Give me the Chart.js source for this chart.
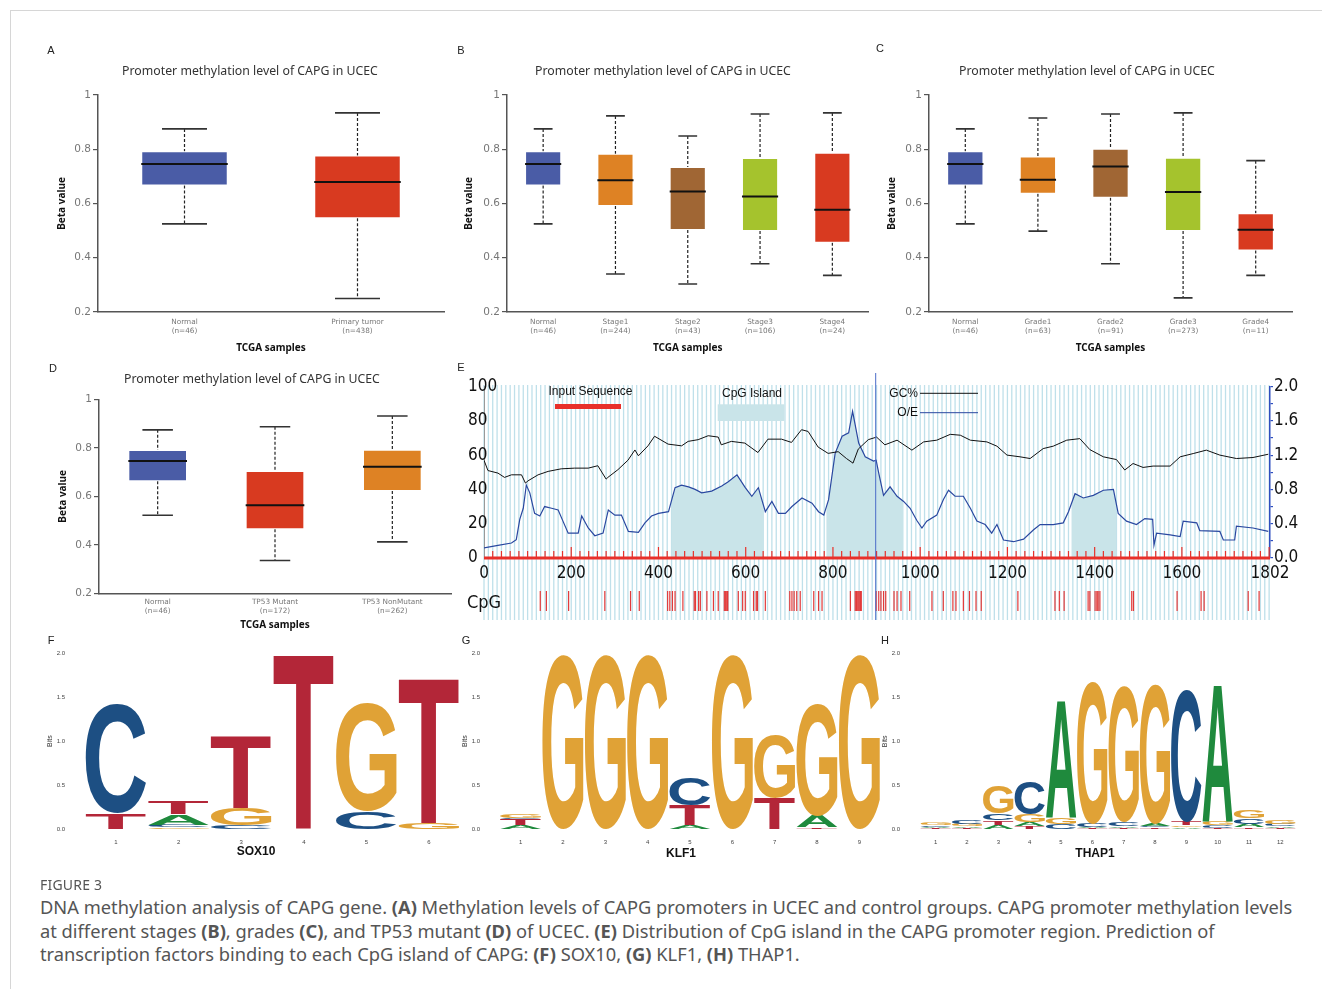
<!DOCTYPE html>
<html>
<head>
<meta charset="utf-8">
<script src="https://cdn.jsdelivr.net/npm/chart.js@4.4.1/dist/chart.umd.min.js"></script>
<style>
  body { margin: 0; background: #fff; width: 1322px; height: 989px; position: relative; overflow: hidden; font-family: 'Noto Sans', sans-serif; }
  .frame { position: absolute; left: 10px; top: 10px; width: 1340px; height: 1000px; border-left: 1px solid #d6d6d6; border-top: 1px solid #d6d6d6; }
  canvas { position: absolute; }
  .t { position: absolute; transform: translate(-50%, -50%); white-space: nowrap; }
  .panel { font: 11px 'Liberation Sans', Arial, sans-serif; color: #222; }
  .title { font: 12.3px 'Noto Sans', sans-serif; color: #333; }
  .motif { font: bold 12px 'Liberation Sans', Arial, sans-serif; color: #111; }
  .fig { position: absolute; left: 40px; top: 875px; font: 14px 'Noto Sans', sans-serif; color: #555; letter-spacing: 0.2px; }
  .cap { position: absolute; left: 40px; top: 895px; font: 18.3px/23.5px 'Noto Sans', sans-serif; color: #555; white-space: nowrap; }
  .cap b { font-weight: bold; }
</style>
</head>
<body>
<div class="frame"></div>

<canvas id="chartA" width="410" height="320" style="left:40px;top:40px"></canvas>
<canvas id="chartB" width="420" height="320" style="left:450px;top:40px"></canvas>
<canvas id="chartC" width="440" height="320" style="left:870px;top:40px"></canvas>
<canvas id="chartD" width="420" height="275" style="left:40px;top:360px"></canvas>
<canvas id="chartE" width="855" height="270" style="left:455px;top:360px"></canvas>
<canvas id="chartF" width="425" height="240" style="left:40px;top:630px"></canvas>
<canvas id="chartG" width="425" height="240" style="left:460px;top:630px"></canvas>
<canvas id="chartH" width="425" height="240" style="left:880px;top:630px"></canvas>

<div class="t panel" style="left:51px;top:50px">A</div>
<div class="t panel" style="left:461px;top:50px">B</div>
<div class="t panel" style="left:880px;top:48px">C</div>
<div class="t panel" style="left:53px;top:368px">D</div>
<div class="t panel" style="left:461px;top:367px">E</div>
<div class="t panel" style="left:51px;top:640px">F</div>
<div class="t panel" style="left:466px;top:640px">G</div>
<div class="t panel" style="left:885px;top:640px">H</div>

<div class="t title" style="left:250px;top:70px">Promoter methylation level of CAPG in UCEC</div>
<div class="t title" style="left:663px;top:70px">Promoter methylation level of CAPG in UCEC</div>
<div class="t title" style="left:1087px;top:70px">Promoter methylation level of CAPG in UCEC</div>
<div class="t title" style="left:252px;top:378px">Promoter methylation level of CAPG in UCEC</div>

<div class="t motif" style="left:256px;top:851px">SOX10</div>
<div class="t motif" style="left:681px;top:853px">KLF1</div>
<div class="t motif" style="left:1095px;top:853px">THAP1</div>

<div class="fig">FIGURE 3</div>
<div class="cap">DNA methylation analysis of CAPG gene. <b>(A)</b> Methylation levels of CAPG promoters in UCEC and control groups. CAPG promoter methylation levels<br>at different stages <b>(B)</b>, grades <b>(C)</b>, and TP53 mutant <b>(D)</b> of UCEC. <b>(E)</b> Distribution of CpG island in the CAPG promoter region. Prediction of<br>transcription factors binding to each CpG island of CAPG: <b>(F)</b> SOX10, <b>(G)</b> KLF1, <b>(H)</b> THAP1.</div>

<script>
// box plots: whisker low, Q1, median, Q3, whisker high
const groupsA = [['Normal', '(n=46)'], ['Primary tumor', '(n=438)']]
const lowA = [0.525, 0.25]
const q1A = [0.666, 0.546]
const medA = [0.746, 0.679]
const q3A = [0.793, 0.777]
const highA = [0.875, 0.934]

const groupsB = [['Normal', '(n=46)'], ['Stage1', '(n=244)'], ['Stage2', '(n=43)'], ['Stage3', '(n=106)'], ['Stage4', '(n=24)']]
const lowB = [0.525, 0.34, 0.303, 0.378, 0.335]
const q1B = [0.666, 0.591, 0.502, 0.499, 0.455]
const medB = [0.746, 0.686, 0.644, 0.626, 0.577]
const q3B = [0.793, 0.783, 0.735, 0.768, 0.787]
const highB = [0.875, 0.923, 0.849, 0.93, 0.934]

const groupsC = [['Normal', '(n=46)'], ['Grade1', '(n=63)'], ['Grade2', '(n=91)'], ['Grade3', '(n=273)'], ['Grade4', '(n=11)']]
const lowC = [0.525, 0.498, 0.378, 0.252, 0.335]
const q1C = [0.666, 0.636, 0.621, 0.499, 0.427]
const medC = [0.746, 0.688, 0.736, 0.642, 0.503]
const q3C = [0.793, 0.773, 0.802, 0.769, 0.564]
const highC = [0.875, 0.915, 0.93, 0.934, 0.758]

const groupsD = [['Normal', '(n=46)'], ['TP53 Mutant', '(n=172)'], ['TP53 NonMutant', '(n=262)']]
const lowD = [0.522, 0.335, 0.412]
const q1D = [0.662, 0.464, 0.622]
const medD = [0.746, 0.563, 0.722]
const q3D = [0.791, 0.704, 0.792]
const highD = [0.874, 0.887, 0.931]

// CpG plot (E)
const gcBp = [0, 9, 32, 47, 63, 86, 95, 101, 124, 147, 177, 208, 239, 261, 280, 284, 307, 330, 346, 354, 376, 391, 422, 453, 468, 491, 514, 537, 544, 567, 598, 628, 651, 682, 705, 728, 743, 766, 789, 812, 831, 846, 858, 881, 900, 919, 947, 981, 1008, 1038, 1069, 1092, 1115, 1153, 1176, 1199, 1229, 1252, 1282, 1305, 1336, 1366, 1389, 1420, 1450, 1469, 1488, 1511, 1534, 1573, 1596, 1626, 1656, 1687, 1725, 1763, 1798]
const gcPct = [57, 51, 49.5, 47, 48.5, 48.5, 43.7, 45, 48.5, 50.5, 52, 52.4, 52.4, 53.8, 46, 47, 51.5, 57, 63, 59.6, 65.4, 71, 66.4, 65.4, 68, 69, 71.3, 70.5, 66, 68, 67, 61.5, 69.3, 69.3, 67.4, 74.8, 73.8, 64.7, 61, 62, 58, 55.3, 63.5, 69, 70.5, 66, 68.7, 62.9, 67.7, 68.7, 72.1, 71.6, 68.7, 67.7, 65.2, 60, 59, 58, 63.8, 65.2, 68.7, 69.6, 63.2, 59, 57.4, 51.3, 55.1, 52.8, 53.6, 53.6, 59, 60.9, 62.9, 60, 58, 58.6, 60.5]
const oeBp = [0, 32, 63, 74, 82, 90, 97, 105, 116, 128, 139, 155, 170, 181, 193, 216, 224, 239, 254, 273, 285, 300, 315, 331, 354, 369, 384, 400, 423, 438, 453, 469, 484, 499, 522, 545, 560, 580, 599, 614, 629, 645, 660, 675, 691, 706, 729, 752, 767, 779, 790, 805, 821, 836, 845, 859, 874, 893, 899, 905, 916, 931, 947, 962, 977, 992, 1004, 1015, 1038, 1053, 1065, 1080, 1099, 1115, 1130, 1149, 1164, 1176, 1191, 1214, 1237, 1260, 1275, 1305, 1328, 1340, 1355, 1374, 1397, 1420, 1443, 1454, 1473, 1496, 1515, 1533, 1536, 1542, 1573, 1596, 1603, 1634, 1641, 1687, 1695, 1721, 1725, 1763, 1798]
const oeRatio = [0.117, 0.148, 0.175, 0.214, 0.45, 0.58, 0.85, 0.76, 0.52, 0.49, 0.6, 0.58, 0.56, 0.43, 0.29, 0.29, 0.49, 0.35, 0.26, 0.29, 0.56, 0.5, 0.5, 0.31, 0.3, 0.41, 0.49, 0.52, 0.54, 0.82, 0.85, 0.83, 0.8, 0.76, 0.78, 0.84, 0.89, 0.97, 0.82, 0.72, 0.82, 0.54, 0.66, 0.52, 0.52, 0.6, 0.7, 0.64, 0.54, 0.5, 0.68, 1.22, 1.42, 1.46, 1.71, 1.34, 1.18, 1.13, 1.14, 0.99, 0.73, 0.83, 0.72, 0.66, 0.58, 0.44, 0.35, 0.43, 0.5, 0.68, 0.79, 0.72, 0.72, 0.58, 0.43, 0.39, 0.29, 0.39, 0.21, 0.19, 0.22, 0.33, 0.39, 0.39, 0.41, 0.54, 0.75, 0.7, 0.73, 0.79, 0.8, 0.52, 0.43, 0.39, 0.46, 0.45, 0.15, 0.29, 0.27, 0.25, 0.43, 0.41, 0.32, 0.31, 0.21, 0.21, 0.37, 0.35, 0.31]
const islandStart = [430, 785, 1347]
const islandEnd = [641, 961, 1450]
const cpgSites = [129, 143, 194, 277, 336, 356, 421, 426, 432, 438, 456, 482, 485, 492, 496, 511, 526, 537, 551, 554, 557, 559, 583, 593, 599, 618, 624, 627, 645, 701, 706, 711, 717, 725, 756, 767, 775, 840, 851, 854, 857, 860, 863, 865, 899, 905, 910, 916, 921, 940, 947, 956, 976, 1027, 1053, 1075, 1082, 1099, 1113, 1128, 1140, 1224, 1309, 1319, 1330, 1385, 1389, 1401, 1405, 1408, 1412, 1485, 1489, 1589, 1644, 1651, 1752, 1777]
const seqLength = 1802
const markerBp = 898
const bpTicks = [0, 200, 400, 600, 800, 1000, 1200, 1400, 1600, 1802]

// sequence logos, letters bottom to top with their heights in bits
const sox10Letters = ['TC', 'GCAT', 'CGT', 'T', 'CG', 'GT']
const sox10Bits = [[0.18, 1.24], [0.02, 0.03, 0.12, 0.14], [0.045, 0.19, 0.82], [2.0], [0.2, 1.23], [0.07, 1.66]]
const klf1Letters = ['ATCG', 'G', 'G', 'G', 'ATC', 'G', 'TG', 'TAG', 'G']
const klf1Bits = [[0.04, 0.07, 0.02, 0.05], [1.98], [1.98], [1.98], [0.04, 0.23, 0.31], [1.98], [0.35, 0.72], [0.02, 0.13, 1.28], [1.98]]
const thap1Letters = ['TACG', 'TAGC', 'ATCG', 'TAGC', 'CGA', 'TACG', 'TACG', 'TCAG', 'AGTC', 'TCGA', 'TACG', 'TACG']
const thap1Bits = [[0.01, 0.015, 0.02, 0.03], [0.01, 0.02, 0.03, 0.04], [0.05, 0.05, 0.08, 0.31], [0.03, 0.05, 0.09, 0.38], [0.06, 0.07, 1.35], [0.01, 0.01, 0.04, 1.63], [0.01, 0.02, 0.05, 1.55], [0.02, 0.01, 0.03, 1.6], [0.02, 0.02, 0.04, 1.5], [0.01, 0.03, 0.04, 1.57], [0.02, 0.04, 0.06, 0.09], [0.01, 0.02, 0.03, 0.04]]

const BLUE = '#4a5ca6', RED = '#d83a20', ORANGE = '#de8224', BROWN = '#a06634', GREEN = '#a5c32d'
const baseColors = { A: '#1f8a3d', C: '#1d4f83', G: '#e0a236', T: '#b32638' }

Chart.defaults.animation = false
Chart.defaults.responsive = false
Chart.defaults.devicePixelRatio = 1
Chart.defaults.plugins.legend.display = false
Chart.defaults.plugins.tooltip.enabled = false

const whiskers = {
  id: 'whiskers',
  beforeDatasetsDraw(chart) {
    const ds = chart.data.datasets[0]
    const y = chart.scales.y
    const ctx = chart.ctx
    chart.getDatasetMeta(0).data.forEach((bar, i) => {
      const cap = bar.width * 0.26
      ctx.save()
      ctx.strokeStyle = '#222'
      ctx.lineWidth = 1.2
      ctx.setLineDash([3, 2])
      ctx.beginPath()
      ctx.moveTo(bar.x, y.getPixelForValue(ds.highs[i]))
      ctx.lineTo(bar.x, y.getPixelForValue(ds.data[i][1]))
      ctx.moveTo(bar.x, y.getPixelForValue(ds.data[i][0]))
      ctx.lineTo(bar.x, y.getPixelForValue(ds.lows[i]))
      ctx.stroke()
      ctx.setLineDash([])
      ctx.lineWidth = 1.6
      ctx.strokeStyle = '#333'
      ctx.beginPath()
      for (const v of [ds.highs[i], ds.lows[i]]) {
        const py = y.getPixelForValue(v)
        ctx.moveTo(bar.x - cap, py)
        ctx.lineTo(bar.x + cap, py)
      }
      ctx.stroke()
      ctx.restore()
    })
  },
  afterDatasetsDraw(chart) {
    const ds = chart.data.datasets[0]
    const y = chart.scales.y
    const ctx = chart.ctx
    ctx.save()
    ctx.strokeStyle = '#111'
    ctx.lineWidth = 2
    chart.getDatasetMeta(0).data.forEach((bar, i) => {
      const py = y.getPixelForValue(ds.medians[i])
      ctx.beginPath()
      ctx.moveTo(bar.x - bar.width / 2, py)
      ctx.lineTo(bar.x + bar.width / 2, py)
      ctx.stroke()
    })
    ctx.restore()
  },
}

function boxChart(id, groups, low, q1, med, q3, high, colors, lay) {
  return new Chart(document.getElementById(id), {
    type: 'bar',
    data: {
      labels: groups,
      datasets: [{
        data: q1.map((v, i) => [v, q3[i]]),
        lows: low,
        highs: high,
        medians: med,
        backgroundColor: colors,
        borderColor: 'rgba(255,255,255,0.55)',
        borderWidth: 1,
        borderSkipped: false,
        barPercentage: 0.5,
        categoryPercentage: 1,
      }],
    },
    options: {
      layout: { padding: { top: lay.top, right: lay.right, left: 0, bottom: 0 } },
      scales: {
        x: {
          afterFit: (s) => { s.height = lay.xh },
          grid: { display: true, drawOnChartArea: false, drawTicks: false },
          border: { color: '#555', width: 1.5 },
          ticks: { font: { family: 'DejaVu Sans', size: 7.3, lineHeight: 1.3 }, color: '#777', padding: lay.xpad, maxRotation: 0 },
          title: { display: true, text: 'TCGA samples', color: '#111', font: { family: 'Noto Sans', size: 10, weight: 'bold' }, padding: { top: 0, bottom: lay.tpad } },
        },
        y: {
          min: 0.2,
          max: 1,
          afterFit: (s) => { s.width = lay.yw },
          grid: { drawOnChartArea: false, drawTicks: true, tickLength: 5, color: '#555', lineWidth: 1.2 },
          border: { color: '#555', width: 1.5 },
          ticks: {
            stepSize: 0.2,
            padding: 2,
            color: '#777',
            font: { family: 'DejaVu Sans', size: 10.5 },
            callback: (v) => (Math.abs(v - 1) < 1e-9 ? '1' : v.toFixed(1)),
          },
          title: { display: true, text: 'Beta value', color: '#111', font: { family: 'Noto Sans', size: 10, weight: 'bold' }, padding: { top: lay.bpad, bottom: 0 } },
        },
      },
    },
    plugins: [whiskers],
  })
}

boxChart('chartA', groupsA, lowA, q1A, medA, q3A, highA, [BLUE, RED],
  { top: 55, right: 6, xh: 48, yw: 58, xpad: 5, tpad: 5.7, bpad: 16.5 })
boxChart('chartB', groupsB, lowB, q1B, medB, q3B, highB, [BLUE, ORANGE, BROWN, GREEN, RED],
  { top: 55, right: 1.5, xh: 48, yw: 57, xpad: 5, tpad: 5.7, bpad: 13.5 })
boxChart('chartC', groupsC, lowC, q1C, medC, q3C, highC, [BLUE, ORANGE, BROWN, GREEN, RED],
  { top: 55, right: 18, xh: 48, yw: 59, xpad: 5, tpad: 5.7, bpad: 15.7 })
boxChart('chartD', groupsD, lowD, q1D, medD, q3D, highD, [BLUE, RED, ORANGE],
  { top: 39.3, right: 9, xh: 41.7, yw: 59, xpad: 4, tpad: 4, bpad: 16.7 })

// ---- E: CpG island plot ----
const eFont = { family: "'DejaVu Sans Condensed', 'Liberation Sans Narrow', 'DejaVu Sans', sans-serif", size: 17 }

const cpgDecor = {
  id: 'cpgDecor',
  beforeDraw(chart) {
    const { ctx, chartArea } = chart
    const x = chart.scales.x, y1 = chart.scales.y1
    ctx.save()
    ctx.strokeStyle = '#bfe0ea'
    ctx.lineWidth = 1.3
    ctx.beginPath()
    for (let b = 0; b <= seqLength; b += 10) {
      const px = x.getPixelForValue(b)
      ctx.moveTo(px, 25)
      ctx.lineTo(px, 260)
    }
    ctx.stroke()
    ctx.fillStyle = '#c9e4e9'
    islandStart.forEach((s, k) => {
      const x0 = x.getPixelForValue(s), x1 = x.getPixelForValue(islandEnd[k])
      ctx.save()
      ctx.beginPath()
      ctx.rect(x0, chartArea.top, x1 - x0, chartArea.bottom - chartArea.top)
      ctx.clip()
      ctx.beginPath()
      ctx.moveTo(x.getPixelForValue(oeBp[0]), y1.getPixelForValue(0))
      oeBp.forEach((b, i) => ctx.lineTo(x.getPixelForValue(b), y1.getPixelForValue(oeRatio[i])))
      ctx.lineTo(x.getPixelForValue(oeBp[oeBp.length - 1]), y1.getPixelForValue(0))
      ctx.closePath()
      ctx.fill()
      ctx.restore()
    })
    ctx.restore()
  },
  afterDatasetsDraw(chart) {
    const ctx = chart.ctx
    const x = chart.scales.x, y = chart.scales.y
    const y0 = y.getPixelForValue(0)
    ctx.save()
    // sequence ruler
    ctx.strokeStyle = '#e8302a'
    ctx.lineWidth = 1.2
    ctx.beginPath()
    for (let b = 20; b <= 1800; b += 20) {
      const px = x.getPixelForValue(b)
      ctx.moveTo(px, y0)
      ctx.lineTo(px, y0 - (b % 200 === 0 ? 11 : 7))
    }
    ctx.stroke()
    ctx.lineWidth = 3
    ctx.beginPath()
    ctx.moveTo(x.getPixelForValue(0), y0)
    ctx.lineTo(x.getPixelForValue(seqLength), y0)
    ctx.stroke()
    // CpG sites
    ctx.strokeStyle = '#e23a3a'
    ctx.lineWidth = 1.2
    ctx.beginPath()
    cpgSites.forEach((b) => {
      const px = x.getPixelForValue(b)
      ctx.moveTo(px, 231)
      ctx.lineTo(px, 251)
    })
    ctx.stroke()
    // marker line
    ctx.strokeStyle = '#4a6cc8'
    ctx.lineWidth = 1
    ctx.beginPath()
    ctx.moveTo(x.getPixelForValue(markerBp), 13)
    ctx.lineTo(x.getPixelForValue(markerBp), 260)
    ctx.stroke()
    // left axis labels, left aligned like the original
    ctx.font = `${eFont.size}px ${eFont.family}`
    ctx.fillStyle = '#111'
    ctx.textAlign = 'left'
    ctx.textBaseline = 'middle'
    y.ticks.forEach((t) => ctx.fillText(String(t.value), 13, y.getPixelForValue(t.value)))
    // legend items
    ctx.font = "12px 'Liberation Sans', Arial, sans-serif"
    ctx.textAlign = 'center'
    ctx.fillText('Input Sequence', 135.5, 31.7)
    ctx.fillText('CpG Island', 297, 33.3)
    ctx.fillStyle = '#e8302a'
    ctx.fillRect(100, 44, 66, 5)
    ctx.fillStyle = '#c9e4e9'
    ctx.fillRect(262.7, 44.3, 66.6, 16.7)
    ctx.fillStyle = '#111'
    ctx.textAlign = 'right'
    ctx.fillText('GC%', 463, 33.3)
    ctx.fillText('O/E', 463, 52.7)
    ctx.lineWidth = 1
    ctx.strokeStyle = '#111'
    ctx.beginPath(); ctx.moveTo(465, 33.3); ctx.lineTo(523, 33.3); ctx.stroke()
    ctx.strokeStyle = '#2a48a0'
    ctx.beginPath(); ctx.moveTo(465, 52.7); ctx.lineTo(523, 52.7); ctx.stroke()
    ctx.textAlign = 'left'
    ctx.font = `18px ${eFont.family}`
    ctx.fillText('CpG', 12, 243)
    ctx.restore()
  },
}

new Chart(document.getElementById('chartE'), {
  type: 'line',
  data: {
    datasets: [
      { data: gcBp.map((b, i) => ({ x: b, y: gcPct[i] })), yAxisID: 'y', borderColor: '#111', borderWidth: 1, pointRadius: 0, tension: 0 },
      { data: oeBp.map((b, i) => ({ x: b, y: oeRatio[i] })), yAxisID: 'y1', borderColor: '#2a48a0', borderWidth: 1.2, pointRadius: 0, tension: 0 },
    ],
  },
  options: {
    layout: { padding: { left: 13, top: 26.5, right: 0, bottom: 0 } },
    scales: {
      x: {
        type: 'linear',
        min: 0,
        max: seqLength,
        afterFit: (s) => { s.height = 72 },
        afterBuildTicks: (s) => { s.ticks = bpTicks.map((v) => ({ value: v })) },
        grid: { display: false, drawTicks: false },
        border: { display: false },
        ticks: { font: eFont, color: '#111', padding: 5, autoSkip: false, maxRotation: 0, callback: (v) => String(v) },
      },
      y: {
        position: 'left',
        min: 0,
        max: 100,
        afterFit: (s) => { s.width = 16 },
        grid: { display: false, drawTicks: false },
        border: { display: true, color: '#999', width: 1 },
        ticks: { stepSize: 20, display: false },
      },
      y1: {
        position: 'right',
        min: 0,
        max: 2,
        afterFit: (s) => { s.width = 40 },
        grid: { display: true, drawOnChartArea: false, drawTicks: true, tickLength: 3, color: '#2f4fbf', lineWidth: 1.2 },
        border: { display: true, color: '#2f4fbf', width: 1.5 },
        ticks: {
          stepSize: 0.2,
          autoSkip: false,
          padding: 1,
          font: eFont,
          color: '#111',
          callback: (v) => {
            const k = Math.round(v * 5)
            return k % 2 === 0 ? (k / 5).toFixed(1) : ''
          },
        },
      },
    },
  },
  plugins: [cpgDecor],
})

// ---- F-H: sequence logos ----
const glyphs = {
  id: 'glyphs',
  afterDatasetsDraw(chart) {
    const ctx = chart.ctx
    ctx.save()
    ctx.font = "bold 100px 'Liberation Sans', Arial, sans-serif"
    ctx.textAlign = 'left'
    ctx.textBaseline = 'alphabetic'
    chart.data.datasets.forEach((ds, k) => {
      chart.getDatasetMeta(k).data.forEach((bar, i) => {
        const ch = ds.glyphs[i]
        const h = bar.base - bar.y
        if (!ch || h < 0.3) return
        const m = ctx.measureText(ch)
        const gw = m.actualBoundingBoxLeft + m.actualBoundingBoxRight
        const gh = m.actualBoundingBoxAscent + m.actualBoundingBoxDescent
        ctx.save()
        ctx.translate(bar.x - bar.width / 2, bar.base)
        ctx.scale(bar.width / gw, h / gh)
        ctx.fillStyle = baseColors[ch]
        ctx.fillText(ch, m.actualBoundingBoxLeft, -m.actualBoundingBoxDescent)
        ctx.restore()
      })
    })
    ctx.restore()
  },
}

function logoChart(id, letters, bits, lay) {
  const depth = Math.max(...letters.map((s) => s.length))
  const datasets = []
  for (let k = 0; k < depth; k++) {
    datasets.push({
      data: bits.map((b) => b[k] || 0),
      glyphs: letters.map((s) => s[k] || ''),
      backgroundColor: 'rgba(0,0,0,0)',
      barPercentage: 0.97,
      categoryPercentage: 1,
    })
  }
  return new Chart(document.getElementById(id), {
    type: 'bar',
    data: { labels: bits.map((_, i) => String(i + 1)), datasets },
    options: {
      layout: { padding: { top: 20.7, right: lay.right, left: 0, bottom: 0 } },
      scales: {
        x: {
          stacked: true,
          afterFit: (s) => { s.height = 41 },
          grid: { display: false, drawTicks: false },
          border: { display: false },
          ticks: { font: { family: 'Liberation Sans', size: 6 }, color: '#444', padding: 10, maxRotation: 0 },
        },
        y: {
          stacked: true,
          min: 0,
          max: 2,
          afterFit: (s) => { s.width = lay.yw },
          grid: { display: false, drawTicks: false },
          border: { display: false },
          ticks: { stepSize: 0.5, padding: lay.tick, font: { family: 'Liberation Sans', size: 6 }, color: '#444', callback: (v) => v.toFixed(1) },
          title: { display: true, text: 'Bits', color: '#333', font: { family: 'Liberation Sans', size: 7 }, padding: { top: lay.bits, bottom: 0 } },
        },
      },
    },
    plugins: [glyphs],
  })
}

logoChart('chartF', sox10Letters, sox10Bits, { right: 4.7, yw: 44.7, tick: 19.7, bits: 5.8 })
logoChart('chartG', klf1Letters, klf1Bits, { right: 4.5, yw: 39.5, tick: 19.5, bits: 0.8 })
logoChart('chartH', thap1Letters, thap1Bits, { right: 9, yw: 40, tick: 20, bits: 0.8 })
</script>
</body>
</html>
